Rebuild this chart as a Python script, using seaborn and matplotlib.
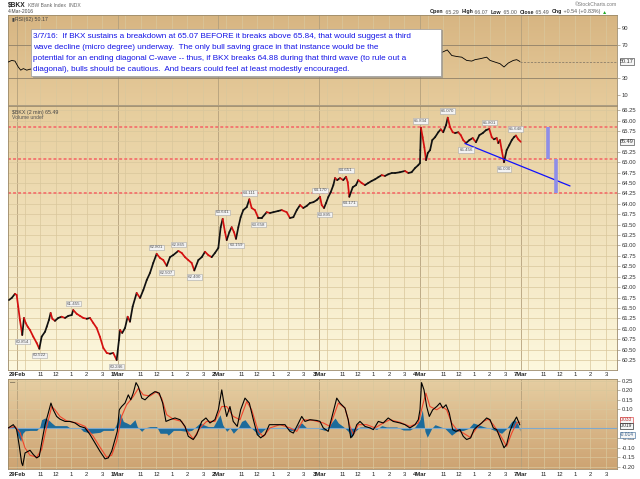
import matplotlib
matplotlib.use("Agg")
import matplotlib.pyplot as plt
import numpy as np
import seaborn as sns
from matplotlib.collections import LineCollection
from matplotlib.colors import LinearSegmentedColormap
from matplotlib.patches import Rectangle

sns.set_theme(style="white")
plt.rcParams["font.family"] = ["Liberation Sans", "DejaVu Sans"]

W, H = 640, 479

# time axis = trading hours since 29 Feb 09:30 (one session = 6.5 h)
SESSION = 6.5
days = ["29Feb", "1Mar", "2Mar", "3Mar", "4Mar", "7Mar"]
hour_labels = ["11", "12", "1", "2", "3"]
hour_offsets = [1.5, 2.5, 3.5, 4.5, 5.5]
grid_offsets = [0.5, 1.5, 2.5, 3.5, 4.5, 5.5]
XLIM = (-0.58, 38.71)

# ---- $BKX 2-minute price path ----
price_t = [-0.52, -0.34, -0.13, -0.02, 0.08, 0.19, 0.34, 0.45, 0.56, 0.69, 0.84, 1.05, 1.27, 1.44,
           1.59, 1.81, 1.92, 2.06, 2.17, 2.28, 2.45, 2.66, 2.88, 3.10, 3.31, 3.53, 3.63, 3.85, 4.06,
           4.28, 4.50, 4.71, 4.92, 5.14, 5.35, 5.57, 5.79, 6.00, 6.21, 6.43, 6.58, 6.65, 6.79, 6.97,
           7.14, 7.29, 7.46, 7.72, 7.94, 8.15, 8.37, 8.58, 8.79, 9.01, 9.23, 9.44, 9.66, 9.87, 10.08,
           10.41, 10.63, 10.84, 11.05, 11.27, 11.44, 11.70, 11.92, 12.13, 12.34, 12.56, 12.77, 12.99,
           13.14, 13.27, 13.42, 13.53, 13.70, 13.85, 14.00, 14.13, 14.28, 14.43, 14.60, 14.82, 14.99,
           15.14, 15.35, 15.57, 15.79, 16.11, 16.32, 16.54, 16.86, 17.08, 17.40, 17.61, 17.83, 18.05,
           18.26, 18.47, 18.69, 18.90, 19.12, 19.34, 19.55, 19.66, 19.81, 19.94, 20.08, 20.24, 20.41,
           20.52, 20.66, 20.84, 21.05, 21.23, 21.34, 21.44, 21.66, 21.87, 22.02, 22.24, 22.45, 22.66,
           22.88, 23.10, 23.31, 23.53, 23.74, 23.95, 24.17, 24.39, 24.71, 25.03, 25.25, 25.46, 25.68,
           25.89, 26.00, 26.02, 26.06, 26.17, 26.28, 26.39, 26.50, 26.65, 26.79, 26.97, 27.18, 27.34,
           27.50, 27.68, 27.79, 27.94, 28.11, 28.26, 28.47, 28.63, 28.79, 28.97, 29.18, 29.40, 29.61,
           29.83, 30.05, 30.26, 30.47, 30.63, 30.77, 30.95, 31.05, 31.16, 31.27, 31.42, 31.59, 31.76,
           31.92, 32.06, 32.19, 32.34, 32.50]
price = [61.69, 61.74, 61.84, 61.81, 61.53, 61.21, 60.85, 61.26, 61.14, 61.05, 60.97, 60.81, 60.66, 60.52,
         60.81, 60.93, 61.05, 61.21, 61.38, 61.24, 61.19, 61.26, 61.29, 61.26, 61.31, 61.33, 61.45, 61.36, 61.31,
         61.26, 61.24, 61.26, 61.14, 61.02, 60.81, 60.54, 60.42, 60.40, 60.42, 60.25, 60.73, 60.97, 60.90, 61.02,
         61.29, 61.17, 61.53, 61.86, 61.74, 61.93, 62.17, 62.34, 62.58, 62.80, 62.70, 62.65, 62.51, 62.72, 62.77,
         62.87, 62.82, 62.72, 62.65, 62.58, 62.40, 62.65, 62.72, 62.85, 62.77, 62.72, 62.82, 62.94,
         63.44, 63.64, 63.32, 63.13, 63.32, 63.44, 63.32, 63.16, 63.44, 63.68, 63.85, 63.92, 64.11,
         63.90, 63.85, 63.66, 63.66, 63.80, 63.78, 63.80, 63.83, 63.85, 63.80, 63.66, 63.68, 63.85,
         63.97, 63.90, 63.95, 64.02, 64.04, 64.09, 64.17, 63.97, 63.90, 64.02, 64.16, 64.28, 64.45,
         64.62, 64.57, 64.62, 64.57, 64.65, 64.52, 64.17, 64.40, 64.45, 64.57, 64.50, 64.45, 64.50,
         64.55, 64.59, 64.64, 64.69, 64.67, 64.71, 64.74, 64.74, 64.76, 64.79, 64.74, 64.76, 64.86,
         64.93, 64.98, 65.29, 65.83, 65.60, 65.36, 65.05, 65.22, 65.29, 65.53, 65.60, 65.72, 65.79,
         65.72, 65.89, 66.07, 65.84, 65.72, 65.70, 65.72, 65.65, 65.53, 65.46, 65.53, 65.58, 65.48,
         65.65, 65.70, 65.77, 65.80, 65.60, 65.55, 65.58, 65.46, 65.53, 65.29, 65.00, 65.29, 65.41,
         65.53, 65.60, 65.64, 65.55, 65.49]

# swing-point value tags
tag_t = [0.34, 1.44, 3.63, 6.43, 9.01, 9.66, 10.41, 11.44, 13.27, 14.13, 14.99, 15.57,
         19.55, 19.81, 21.23, 21.44, 26.06, 27.79, 28.97, 30.47, 31.42, 32.19]
tag_price = [60.85, 60.52, 61.45, 60.25, 62.80, 62.51, 62.87, 62.40, 63.64, 63.16, 64.11, 63.66,
             64.17, 63.90, 64.65, 64.17, 65.83, 66.07, 65.46, 65.80, 65.00, 65.64]
tag_text = ["60.854", "60.522", "61.455", "60.246", "62.801", "62.507", "62.865", "62.400",
            "63.641", "63.159", "64.111", "63.658", "64.170", "63.895", "64.651", "64.171",
            "65.834", "66.070", "65.456", "65.801", "65.000", "65.648"]
tag_above = [False, False, True, False, True, False, True, False, True, False, True, False,
             True, False, True, False, True, True, False, True, False, True]

# drawn levels, trend line and target bars
levels = [65.84, 65.07, 64.25]
trend_t = [28.90, 35.68]
trend_price = [65.45, 64.43]
bar_t = [34.28, 34.75]
bar_top = [65.84, 65.07]
bar_bottom = [65.07, 64.25]

# ---- RSI(62) (only the parts not hidden by the note) ----
rsi_t = [-0.56, -0.34, -0.13, 0.08, 0.24, 0.41, 0.63, 0.84,
         27.29, 27.76, 28.05, 28.37, 28.69, 29.01, 29.34, 29.55, 29.87, 30.30, 30.52,
         30.84, 31.16, 31.42, 31.70, 32.02, 32.24, 32.45]
rsi = [49.6, 51.5, 50.7, 43.6, 39.8, 41.7, 39.8, 41.0,
       60.1, 64.1, 57.4, 56.2, 55.4, 51.5, 50.7, 52.4, 53.5, 55.4, 51.5,
       49.5, 47.6, 43.6, 48.4, 51.5, 52.4, 50.17]

# ---- MACD(12,26,9) ----
macd_t = [-0.56, -0.24, -0.02, 0.15, 0.30, 0.37, 0.52, 0.84, 1.05, 1.27, 1.44, 1.59, 1.81, 2.02, 2.19,
          2.34, 2.56, 2.77, 3.10, 3.42, 3.74, 4.06, 4.39, 4.71, 5.03, 5.35, 5.68, 5.89, 6.11, 6.32,
          6.47, 6.60, 6.75, 6.97, 7.18, 7.34, 7.50, 7.68, 7.83, 8.05, 8.26, 8.58, 8.90, 9.18, 9.40,
          9.61, 9.87, 10.19, 10.52, 10.84, 11.05, 11.37, 11.59, 11.92, 12.19, 12.45, 12.77, 12.99,
          13.21, 13.35, 13.53, 13.74, 13.95, 14.21, 14.43, 14.71, 14.99, 15.25, 15.50, 15.72, 16.00,
          16.28, 16.75, 17.29, 17.61, 17.83, 18.11, 18.37, 18.58, 18.90, 19.34,
          19.55, 19.76, 20.08, 20.30, 20.63, 20.84, 21.16, 21.37, 21.53, 21.70, 21.92, 22.13, 22.45,
          22.77, 22.99, 23.31, 23.63, 23.95, 24.27, 24.71, 25.03, 25.35, 25.68, 25.89, 26.00, 26.10,
          26.26, 26.43, 26.60, 26.82, 27.08, 27.29, 27.47, 27.68, 27.89, 28.11, 28.32, 28.58, 28.79,
          29.01, 29.27, 29.48, 29.70, 29.98, 30.30, 30.52, 30.73, 30.95, 31.16, 31.42, 31.59, 31.80,
          32.01, 32.23, 32.44]
macd = [0.003, 0.02, -0.006, -0.093, -0.18, -0.194, -0.128, -0.114, -0.136, -0.154, -0.145, -0.076,
        0.02, 0.081, 0.133, 0.098, 0.063, 0.049, 0.037, 0.037, 0.029, 0.011, 0.003, -0.032, -0.076,
        -0.119, -0.159, -0.154, -0.119, -0.058, -0.015, 0.098, 0.115, 0.133, 0.176, 0.15, 0.185, 0.24,
        0.219, 0.159, 0.15, 0.176, 0.193, 0.185, 0.133, 0.037, 0.046, 0.055, 0.046, 0.011, -0.041,
        -0.058, -0.032, 0.037, 0.055, 0.029, 0.046, 0.098, 0.202, 0.133, 0.063, 0.115, 0.037, 0.011,
        0.098, 0.159, 0.133, 0.046, -0.032, -0.049, -0.032, 0.02, 0.02, 0.02, -0.015, -0.024, 0.02,
        0.063, 0.037, 0.046, 0.042,
        0.037, 0.003, -0.015, 0.055, 0.159, 0.133, 0.107, 0.046, -0.049, -0.032, 0.02, 0.037, 0.011,
        0.003, -0.006, 0.037, 0.029, 0.055, 0.037, 0.029, 0.02, 0.003, 0.02, 0.046, 0.098, 0.24,
        0.202, 0.115, 0.063, 0.098, 0.115, 0.133, 0.107, 0.124, 0.081, -0.006, -0.015, -0.006, -0.041,
        -0.058, -0.049, -0.006, 0.011, 0.029, 0.055, 0.046, 0.003, -0.006, -0.049, -0.101, -0.084,
        -0.015, 0.029, 0.060, 0.019]

signal_t = [-0.56, -0.13, 0.19, 0.52, 0.84, 1.27, 1.59, 1.92, 2.24, 2.45, 2.77, 3.20, 3.85, 4.39,
            4.92, 5.35, 5.78, 6.11, 6.43, 6.75, 7.07, 7.50, 7.83, 8.15, 8.58, 9.01, 9.33, 9.66,
            10.08, 10.63, 10.95, 11.37, 11.81, 12.23, 12.77, 13.21, 13.53, 13.95, 14.39, 14.82,
            15.14, 15.57, 15.89, 16.32, 16.97, 17.61, 18.05, 18.47, 19.12,
            19.76, 20.19, 20.73, 21.16, 21.48, 21.70, 22.02, 22.56, 23.10, 23.63, 24.06, 24.71,
            25.35, 25.89, 26.21, 26.38, 26.64, 27.08, 27.40, 27.72, 28.04, 28.37, 28.79, 29.23,
            29.66, 30.09, 30.41, 30.73, 31.16, 31.59, 31.92, 32.23, 32.44]
signal = [0.003, 0.011, -0.02, -0.102, -0.14, -0.15, -0.11, 0.011, 0.115, 0.098, 0.063, 0.04, 0.029,
          0.011, -0.041, -0.097, -0.15, -0.14, -0.067, 0.063, 0.124, 0.167, 0.21, 0.176, 0.17, 0.193,
          0.159, 0.072, 0.049, 0.037, -0.01, -0.055, 0.003, 0.037, 0.037, 0.115, 0.115, 0.063, 0.046,
          0.141, 0.098, -0.015, -0.043, 0.003, 0.02, 0.003, -0.015, 0.046, 0.042,
          0.029, 0.011, 0.133, 0.107, 0.011, -0.032, 0.02, 0.02, 0.003, 0.029, 0.046, 0.032, 0.011,
          0.029, 0.133, 0.185, 0.115, 0.098, 0.115, 0.098, 0.029, -0.006, -0.024, -0.046, 0.003,
          0.037, 0.049, 0.02, -0.032, -0.093, -0.024, 0.029, 0.033]

hist_t = [-0.56, -0.34, -0.13, 0.09, 0.24, 0.37, 0.52, 0.84, 1.27, 1.48, 1.59, 1.81, 2.02, 2.24, 2.45,
          3.20, 3.42, 4.06, 4.28, 4.82, 5.35, 5.57, 6.22, 6.54, 6.65, 6.86, 7.08, 7.29, 7.61, 7.76,
          8.04, 8.26, 8.58, 9.01, 9.23, 9.66, 9.76, 10.09, 10.52, 10.95, 11.27, 11.81, 12.02, 12.34,
          12.67, 13.10, 13.27, 13.53, 13.74, 13.96, 14.28, 14.49, 14.71, 15.03, 15.35, 15.57, 15.89,
          16.11, 17.40, 17.61, 17.94, 18.15, 18.37, 18.69, 19.33,
          19.87, 20.19, 20.52, 20.73, 21.05, 21.37, 21.59, 21.81, 22.13, 22.77, 23.20, 23.53, 23.85,
          24.49, 24.92, 25.35, 25.68, 26.00, 26.15, 26.32, 26.47, 26.75, 26.97, 27.29, 27.61, 28.04,
          28.37, 28.80, 29.12, 29.44, 29.76, 30.09, 30.52, 30.95, 31.27, 31.59, 31.92, 32.13, 32.34,
          32.44]
hist = [0.005, 0.011, 0.008, -0.046, -0.067, -0.025, -0.012, -0.01, -0.01, 0.01, 0.046, 0.055, 0.046,
        0.029, 0.015, 0.015, 0.003, 0.003, -0.015, -0.025, -0.02, -0.01, -0.01, 0.046, 0.081, 0.037,
        0.029, 0.02, 0.046, 0.01, -0.015, 0.003, 0.01, 0.01, -0.025, -0.025, -0.035, -0.01, -0.01,
        -0.015, -0.01, 0.029, 0.02, 0.01, 0.01, 0.072, 0.02, -0.015, 0.003, -0.025, 0.003, 0.037,
        0.046, 0.01, -0.015, -0.035, -0.01, 0.005, 0.005, -0.01, -0.01, 0.02, 0.029, 0.003, 0.003,
        -0.01, 0.02, 0.055, 0.029, 0.01, -0.015, -0.046, -0.015, 0.008, 0.008, -0.005, 0.015, 0.008,
        0.008, -0.008, -0.008, 0.008, 0.046, 0.098, -0.015, -0.046, 0.0, 0.02, 0.01, 0.0, -0.035,
        -0.015, -0.01, 0.0, 0.029, 0.02, 0.01, 0.0, -0.015, -0.025, 0.0, 0.037, 0.046, 0.02, -0.014]

note_lines = [
    "3/7/16:  If BKX sustains a breakdown at 65.07 BEFORE it breaks above 65.84, that would suggest a third",
    "wave decline (micro degree) underway.  The only bull saving grace in that instance would be the",
    "potential for an ending diagonal C-wave -- thus, if BKX breaks 64.88 during that third wave (to rule out a",
    "diagonal), bulls should be cautious.  And bears could feel at least modestly encouraged.",
]

GRID = "#d9c79c"
DAYLINE = "#b4a07c"
TXT = "#333333"


def _rect(x0, y0, x1, y1):
    return [x0 / W, 1 - y1 / H, (x1 - x0) / W, (y1 - y0) / H]


def _backdrop(ax, top, bottom):
    cmap = LinearSegmentedColormap.from_list("bg", [bottom, top])
    ax.imshow(np.linspace(0, 1, 256).reshape(-1, 1), cmap=cmap, origin="lower", aspect="auto",
              extent=[0, 1, 0, 1], transform=ax.transAxes, zorder=0)


def _panel(ax, ylim, top, bottom):
    _backdrop(ax, top, bottom)
    for i in range(len(days)):
        ax.axvline(i * SESSION, color=DAYLINE, lw=0.6, zorder=1)
        for off in grid_offsets:
            ax.axvline(i * SESSION + off, color=GRID, lw=0.5, zorder=1)
    ax.set_xlim(XLIM)
    ax.set_ylim(ylim)
    ax.grid(False)
    ax.yaxis.tick_right()
    ax.tick_params(axis="y", length=2, width=0.4, color="#8a7a60", labelsize=4.2,
                   labelcolor=TXT, pad=1.5)
    for s in ax.spines.values():
        s.set_color("#9c8a6a")
        s.set_linewidth(0.6)


def _time_axis(ax, show):
    pos, lab = [], []
    for i, d in enumerate(days):
        pos.append(i * SESSION)
        lab.append(d)
        for off, h in zip(hour_offsets, hour_labels):
            pos.append(i * SESSION + off)
            lab.append(h)
    if show:
        ax.set_xticks(pos, lab)
        for tl in ax.get_xticklabels():
            if tl.get_text() in days:
                tl.set_fontweight("bold")
        ax.tick_params(axis="x", length=0, labelsize=4.2, labelcolor="#222222", pad=1.8)
    else:
        ax.set_xticks([])


def _hgrid(ax, values, color=GRID, lw=0.5):
    for v in values:
        ax.axhline(v, color=color, lw=lw, zorder=1)


def _value_tag(ax, value, text, edge, color, nudge=0.0, size=4):
    ax.annotate(text, xy=(1, value), xycoords=("axes fraction", "data"), xytext=(2.2, nudge),
                textcoords="offset points", ha="left", va="center", fontsize=size, color=color,
                bbox=dict(boxstyle="square,pad=0.1", fc="#f6f6f6", ec=edge, lw=0.5),
                annotation_clip=False, zorder=8)


def _chain(fig, x_px, y_px, pieces, size):
    prev = fig.text(x_px / W, 1 - y_px / H, pieces[0][0], color=pieces[0][1],
                    fontweight=pieces[0][2], fontsize=size, va="center", ha="left")
    for s, c, wgt in pieces[1:]:
        prev = fig.axes[0].annotate(s, xy=(1, 0), xycoords=prev, va="bottom", ha="left",
                                    fontsize=size, color=c, fontweight=wgt, annotation_clip=False)


fig = plt.figure(figsize=(6.4, 4.79), dpi=100, facecolor="white")
ax_rsi = fig.add_axes(_rect(8, 15, 617, 105))
ax_px = fig.add_axes(_rect(8, 106, 617, 370))
ax_macd = fig.add_axes(_rect(8, 379, 617, 469))

# ---- RSI panel ----
_panel(ax_rsi, (-2, 106), "#d7b582", "#e6cb9b")
_hgrid(ax_rsi, [30, 70], color="#8f8068", lw=0.6)
sns.lineplot(x=rsi_t, y=rsi, ax=ax_rsi, color="black", lw=0.6, zorder=3)
ax_rsi.hlines(rsi[-1], rsi_t[-1], XLIM[1], colors="#7a7060", lw=0.5, linestyles=(0, (3, 2)), zorder=2)
ax_rsi.set_yticks([10, 30, 70, 90], ["10", "30", "70", "90"])
_time_axis(ax_rsi, False)
_value_tag(ax_rsi, rsi[-1], f"{rsi[-1]:.2f}", "#555555", TXT)
ax_rsi.set_xlabel("")
ax_rsi.set_ylabel("")

# ---- price panel ----
_panel(ax_px, (60.01, 66.35), "#e6cd9c", "#fdf8de")
px_ticks = [v / 100 for v in range(6025, 6626, 25)]
_hgrid(ax_px, px_ticks)
ax_px.set_yticks([v for v in px_ticks if abs(v - 65.5) > 1e-6],
                 [f"{v:.2f}" for v in px_ticks if abs(v - 65.5) > 1e-6])
for lv in levels:
    ax_px.axhline(lv, color="#f27a72", lw=1.4, ls=(0, (1.5, 1.1)), zorder=2)

pts = np.column_stack([price_t, price])
segs = np.stack([pts[:-1], pts[1:]], axis=1)
seg_colors = ["#111111" if b >= a else "#d41010" for a, b in zip(price[:-1], price[1:])]
ax_px.add_collection(LineCollection(segs, colors=seg_colors, linewidths=1.25, zorder=4,
                                    capstyle="round"))

sns.lineplot(x=trend_t, y=trend_price, ax=ax_px, color="#1010ff", lw=0.9, zorder=5)
ax_px.vlines(bar_t, bar_bottom, bar_top, colors="#8e8ee8", lw=2.6, zorder=5)

for t, p, s, up in zip(tag_t, tag_price, tag_text, tag_above):
    ax_px.annotate(s, xy=(t, p), xytext=(0, 4.6 if up else -4.8), textcoords="offset points",
                   ha="center", va="center", fontsize=3.2, color="#555555",
                   bbox=dict(boxstyle="square,pad=0.18", fc="#f3f3f3", ec="#a9a9a9", lw=0.4),
                   zorder=6)
_time_axis(ax_px, True)
_value_tag(ax_px, price[-1], f"{price[-1]:.2f}", "#555555", TXT)
ax_px.set_xlabel("")
ax_px.set_ylabel("")
ax_px.text(0.006, 0.985, "$BKX (2 min) 65.49", transform=ax_px.transAxes, fontsize=3.8,
           color="#444444", va="top", ha="left", zorder=7)
ax_px.text(0.006, 0.965, "Volume undef", transform=ax_px.transAxes, fontsize=3.6,
           color="#555555", va="top", ha="left", zorder=7)

# ---- MACD panel ----
_panel(ax_macd, (-0.212, 0.259), "#e6cea2", "#cda372")
macd_ticks = [v / 100 for v in range(-20, 26, 5)]
_hgrid(ax_macd, macd_ticks)
ax_macd.set_yticks([v for v in macd_ticks if abs(v) > 1e-6 and abs(v - 0.05) > 1e-6],
                   [f"{v:.2f}" for v in macd_ticks if abs(v) > 1e-6 and abs(v - 0.05) > 1e-6])
ax_macd.fill_between(hist_t, hist, 0, color="#1c6b9b", lw=0, zorder=2)
ax_macd.axhline(0, color="#7fa9cc", lw=0.8, zorder=2)
sns.lineplot(x=signal_t, y=signal, ax=ax_macd, color="#f0452c", lw=0.8, zorder=3)
sns.lineplot(x=macd_t, y=macd, ax=ax_macd, color="black", lw=0.8, zorder=4)
_time_axis(ax_macd, True)
_value_tag(ax_macd, signal[-1], f"{signal[-1]:.3f}", "#e05050", "#c03030", nudge=1.6, size=3.5)
_value_tag(ax_macd, macd[-1], f"{macd[-1]:.3f}", "#333333", TXT, nudge=-0.6, size=3.5)
_value_tag(ax_macd, hist[-1], f"{hist[-1]:.3f}", "#5a80a8", "#3a5f88", nudge=-2.6, size=3.5)
ax_macd.set_xlabel("")
ax_macd.set_ylabel("")

# ---- header and panel captions ----
fig.text(8 / W, 1 - 5.5 / H, "$BKX", fontsize=4.8, fontweight="bold", color="#222222", va="center")
fig.text(28 / W, 1 - 5.5 / H, "KBW Bank Index  INDX", fontsize=3.6, color="#666666", va="center")
fig.text(8 / W, 1 - 11.8 / H, "4-Mar-2016", fontsize=3.6, color="#444444", va="center")
fig.text(617 / W, 1 - 5 / H, "\u00a9StockCharts.com", fontsize=3.6, color="#777777",
         va="center", ha="right")
_chain(fig, 430, 12, [("Open", "#222222", "bold"), (" 65.29  ", "#555555", "normal"),
                      ("High", "#222222", "bold"), (" 66.07  ", "#555555", "normal"),
                      ("Low", "#222222", "bold"), (" 65.00  ", "#555555", "normal"),
                      ("Close", "#222222", "bold"), (" 65.49  ", "#555555", "normal"),
                      ("Chg", "#222222", "bold"), (" +0.54 (+0.83%) ", "#555555", "normal"),
                      ("\u25b2", "#22aa22", "normal")], 3.8)
fig.text(12 / W, 1 - 19 / H, "\u25aeRSI(62) 50.17", fontsize=3.8, color="#444444", va="center")
_chain(fig, 10, 382.5, [("\u2014 ", "#111111", "normal"), ("MACD(12,26,9) 0.019, ", "#555555", "normal"),
                        ("0.033, ", "#e04030", "normal"), ("-0.014", "#5a80a8", "normal")], 3.8)

# ---- the note box ----
fig.patches.append(Rectangle((33 / W, 1 - 78 / H), 410 / W, 48 / H, transform=fig.transFigure,
                             fc="#8a8a8a", ec="none", alpha=0.6, zorder=2))
fig.patches.append(Rectangle((31 / W, 1 - 76 / H), 410 / W, 47 / H, transform=fig.transFigure,
                             fc="white", ec="#9a9a9a", lw=0.5, zorder=2))
for i, line in enumerate(note_lines):
    fig.text(33 / W, 1 - (36 + 11.3 * i) / H, line, fontsize=5.9, color="#1414e6",
             va="center", ha="left", zorder=3)

fig.savefig("out.png", dpi=100, facecolor="white")
